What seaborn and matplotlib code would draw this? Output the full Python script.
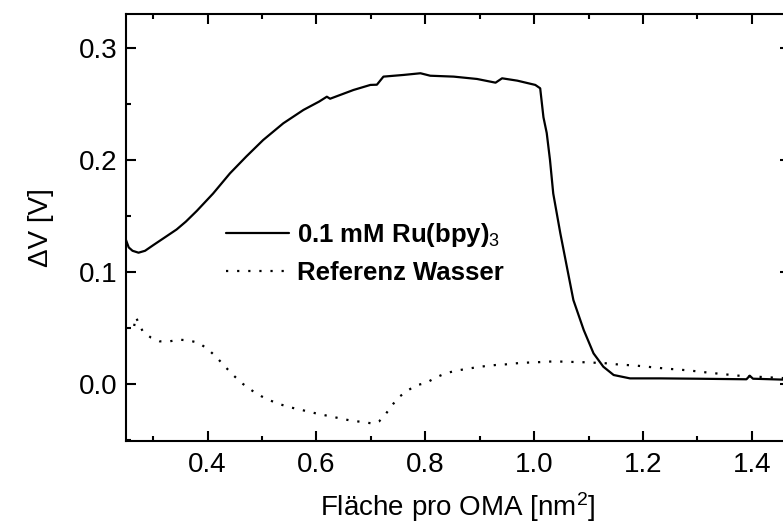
import matplotlib
matplotlib.use("Agg")
import matplotlib.pyplot as plt
import seaborn as sns
import pandas as pd
from matplotlib.ticker import MultipleLocator

# 0.1 mM Ru(bpy)3 isotherm: area per OMA [nm^2] vs. surface potential change [V]
ru_x = [0.250, 0.255, 0.262, 0.273, 0.285, 0.300, 0.320, 0.343, 0.360, 0.380,
        0.410, 0.441, 0.471, 0.502, 0.539, 0.576, 0.605, 0.619, 0.625, 0.668,
        0.699, 0.711, 0.723, 0.760, 0.791, 0.809, 0.852, 0.895, 0.929, 0.941,
        0.969, 1.002, 1.011, 1.017, 1.023, 1.029, 1.035, 1.048, 1.060, 1.072,
        1.091, 1.109, 1.127, 1.146, 1.176, 1.232, 1.300, 1.390, 1.396, 1.402,
        1.470]
ru_y = [0.1286, 0.1220, 0.1190, 0.1173, 0.1190, 0.1240, 0.1305, 0.1380, 0.1450, 0.1545,
        0.1700, 0.1880, 0.2030, 0.2177, 0.2326, 0.2445, 0.2520, 0.2563, 0.2545, 0.2623,
        0.2668, 0.2670, 0.2742, 0.2757, 0.2772, 0.2750, 0.2742, 0.2721, 0.2688, 0.2727,
        0.2706, 0.2668, 0.2638, 0.2380, 0.2240, 0.2000, 0.1700, 0.1346, 0.1048, 0.0751,
        0.0484, 0.0276, 0.0157, 0.0083, 0.0053, 0.0053, 0.0050, 0.0045, 0.0077, 0.0050,
        0.0040]

# Reference measurement on pure water
water_x = [0.265, 0.268, 0.281, 0.296, 0.312, 0.330, 0.347, 0.364, 0.383, 0.400,
           0.416, 0.431, 0.448, 0.465, 0.482, 0.499, 0.516, 0.532, 0.549, 0.568,
           0.600, 0.630, 0.660, 0.690, 0.705, 0.715, 0.725, 0.736, 0.750, 0.767,
           0.783, 0.801, 0.820, 0.837, 0.856, 0.874, 0.893, 0.911, 0.929, 0.948,
           0.966, 0.984, 1.002, 1.021, 1.039, 1.057, 1.076, 1.097, 1.134, 1.152,
           1.170, 1.189, 1.207, 1.226, 1.244, 1.262, 1.281, 1.299, 1.320, 1.339,
           1.357, 1.376, 1.420, 1.460]
water_y = [0.0520, 0.0600, 0.0469, 0.0416, 0.0383, 0.0383, 0.0398, 0.0392, 0.0371, 0.0315,
           0.0243, 0.0163, 0.0077, 0.0003, -0.0057, -0.0107, -0.0146, -0.0176, -0.0202, -0.0223,
           -0.0260, -0.0290, -0.0320, -0.0340, -0.0350, -0.0330, -0.0280, -0.0205, -0.0119, -0.0057,
           -0.0009, 0.0012, 0.0062, 0.0098, 0.0121, 0.0136, 0.0151, 0.0163, 0.0172, 0.0178,
           0.0187, 0.0193, 0.0196, 0.0201, 0.0205, 0.0201, 0.0199, 0.0196, 0.0187, 0.0178,
           0.0172, 0.0166, 0.0157, 0.0148, 0.0139, 0.0133, 0.0125, 0.0116, 0.0104, 0.0095,
           0.0086, 0.0077, 0.0065, 0.0055]

labels = [r"0.1 mM Ru(bpy)$_3$", "Referenz Wasser"]
x_ticks = [0.4, 0.6, 0.8, 1.0, 1.2, 1.4]
y_ticks = [0.0, 0.1, 0.2, 0.3]

sns.set_theme(style="ticks")
plt.rcParams["font.family"] = ["Liberation Sans", "DejaVu Sans"]
plt.rcParams["mathtext.fontset"] = "custom"
plt.rcParams["mathtext.rm"] = "Liberation Sans"
plt.rcParams["mathtext.it"] = "Liberation Sans:italic"
plt.rcParams["mathtext.bf"] = "Liberation Sans:bold"
for key in ("text.color", "axes.labelcolor", "xtick.color", "ytick.color",
            "axes.edgecolor"):
    plt.rcParams[key] = "black"

fig = plt.figure(figsize=(7.83, 5.27), dpi=100)
ax = fig.add_axes([126 / 783, 86 / 527, (790 - 126) / 783, (441 - 14) / 527])

ru = pd.DataFrame({"x": ru_x, "y": ru_y})
water = pd.DataFrame({"x": water_x, "y": water_y})

sns.lineplot(data=ru, x="x", y="y", ax=ax, color="black", lw=1.6,
             sort=False, label=labels[0])
sns.lineplot(data=water, x="x", y="y", ax=ax, color="black", lw=1.6,
             sort=False, label=labels[1], linestyle=(0, (1, 4.0)))

ax.set_xlim(0.25, 1.47)
ax.set_ylim(-0.0505, 0.33)
ax.set_xticks(x_ticks)
ax.set_yticks(y_ticks)
ax.xaxis.set_minor_locator(MultipleLocator(0.1))
ax.yaxis.set_minor_locator(MultipleLocator(0.05))
ax.set_xticklabels([f"{v:.1f}" for v in x_ticks])
ax.set_yticklabels([f"{v:.1f}" for v in y_ticks])

for s in ax.spines.values():
    s.set_linewidth(1.5)
    s.set_color("black")
ax.tick_params(which="both", direction="in", top=True, right=True,
               width=1.5, color="black", labelcolor="black", labelsize=20)
ax.tick_params(axis="x", pad=8)
ax.tick_params(axis="y", pad=6)
ax.tick_params(which="major", length=7)
ax.tick_params(which="minor", length=3.6)

ax.set_xlabel("Fläche pro OMA [nm$^2$]", fontsize=20, labelpad=9, color="black")
ax.set_ylabel("ΔV [V]", fontsize=20, labelpad=18, color="black")

leg = ax.legend(loc="upper left", bbox_to_anchor=(226 / 783, 1 - 221 / 527),
                bbox_transform=fig.transFigure, frameon=False,
                prop={"weight": "bold", "size": 18.5},
                handlelength=2.45, handletextpad=0.3, labelspacing=0.45,
                borderpad=0, borderaxespad=0)
for t in leg.get_texts():
    t.set_color("black")

fig.savefig("out.png", dpi=100)
